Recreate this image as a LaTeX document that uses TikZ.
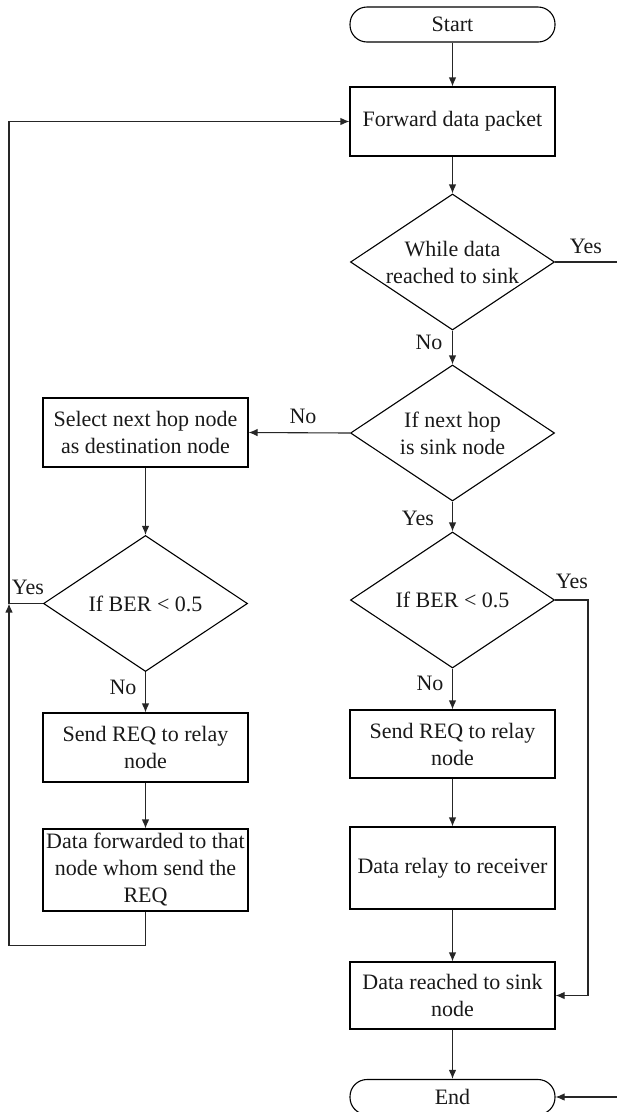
\documentclass[tikz,border=0pt]{standalone}
\usepackage{fontspec}
\setmainfont{Liberation Serif}
\usetikzlibrary{shapes.geometric,arrows.meta}
\begin{document}
\begin{tikzpicture}[x=1pt,y=-1pt,
  every node/.style={font=\fontsize{22}{27}\selectfont, text=black!90},
  box/.style={draw, line width=1.1pt, rectangle, minimum width=205pt, inner sep=0pt, align=center},
  term/.style={draw, line width=1.1pt, rectangle, rounded corners=17pt, minimum width=205pt, minimum height=35pt, inner sep=0pt},
  dec/.style={draw, line width=1.1pt, diamond, aspect=1.5, minimum width=204pt, minimum height=136pt, inner sep=0pt, align=center},
  lbl/.style={inner sep=0pt},
  conn/.style={draw=black!85, line width=1.1pt},
  arr/.style={conn, -{Latex[length=9pt,width=7.5pt]}}
]
\useasboundingbox (0,0) rectangle (617,1112);

% right column
\node[term] (start) at (452.5,24.5) {Start};
\node[box, minimum height=69pt] (fwd) at (452.5,121.5) {Forward data packet};
\node[dec] (d1) at (452.5,262) {While data\\reached to sink};
\node[dec] (d2) at (452.5,433) {If next hop\\is sink node};
\node[dec] (d4) at (452.5,600) {If BER < 0.5};
\node[box, minimum height=68pt] (sr) at (452.5,744) {Send REQ to relay\\node};
\node[box, minimum height=82pt] (relay) at (452.5,868) {Data relay to receiver};
\node[box, minimum height=67pt] (reached) at (452.5,995.5) {Data reached to sink\\node};
\node[term] (end) at (452.5,1097) {End};

% left column
\node[box, minimum height=69pt] (sel) at (145.5,432.5) {Select next hop node\\as destination node};
\node[dec] (d3) at (145.5,603.5) {If BER < 0.5};
\node[box, minimum height=69pt] (sl) at (145.5,747.5) {Send REQ to relay\\node};
\node[box, minimum height=82pt] (fwdd) at (145.5,870) {Data forwarded to that\\node whom send the\\REQ};

% free ends
\coordinate (yesout) at (617,262);
\coordinate (endin) at (617,1097);
\coordinate (lx) at (9,603.5);
\coordinate (rx) at (588,600);

% labels
\node[lbl] (lyes1) at (586,246) {Yes};
\node[lbl] (lno1) at (429,342) {No};
\node[lbl] (lno2) at (303,416) {No};
\node[lbl] (lyes2) at (418,518) {Yes};
\node[lbl] (lyes3) at (28,587) {Yes};
\node[lbl] (lno3) at (123,687) {No};
\node[lbl] (lyes4) at (572,581) {Yes};
\node[lbl] (lno4) at (430,683) {No};

% connectors
\draw[arr] (start) -- (fwd);
\draw[arr] (fwd) -- (d1);
\draw[conn] (d1.east) -- (yesout);
\draw[arr] (d1) -- (d2);
\draw[arr] (d2.west) -- (sel.east);
\draw[arr] (d2) -- (d4);
\draw[arr] (sel) -- (d3);
\draw[arr] (d3.west) -- (lx) |- (fwd.west);
\draw[arr] (d3) -- (sl);
\draw[arr] (sl) -- (fwdd);
\draw[arr] (fwdd.south) -- ++(0,34) -| (lx);
\draw[arr] (d4.east) -- (rx) |- (reached.east);
\draw[arr] (d4) -- (sr);
\draw[arr] (sr) -- (relay);
\draw[arr] (relay) -- (reached);
\draw[arr] (reached) -- (end);
\draw[arr] (endin) -- (end.east);
\end{tikzpicture}
\end{document}
